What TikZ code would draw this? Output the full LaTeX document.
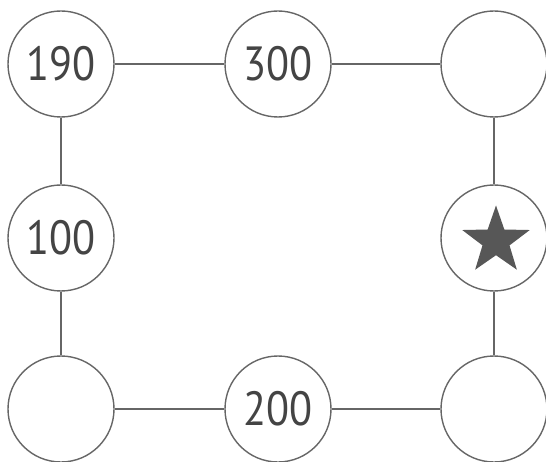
\documentclass[tikz,border=0pt]{standalone}
\usepackage{fontspec}
\setmainfont{PT Sans}
\usetikzlibrary{shapes.geometric}
\definecolor{linec}{HTML}{666666}
\definecolor{textc}{HTML}{444444}
\newcommand{\numtxt}[1]{\scalebox{0.88}[1]{#1}}
\begin{document}
\begin{tikzpicture}[x=1pt,y=-1pt,
  circ/.style={circle,draw=linec,line width=1.4pt,minimum size=106pt,inner sep=0pt,fill=white,
    font=\fontsize{48}{48}\selectfont,text=textc},
  conn/.style={draw=linec,line width=1.4pt},
  starshape/.style={star,star points=5,star point ratio=2.5,fill=textc!90!white,draw=none,minimum size=71pt,inner sep=0pt}]
\useasboundingbox[fill=white] (0,0) rectangle (546,462);
\node[circ] (a) at (61,64) {\numtxt{190}};
\node[circ] (b) at (278,64) {\numtxt{300}};
\node[circ] (c) at (494,64) {};
\node[circ] (d) at (61,238) {\numtxt{100}};
\node[circ] (e) at (494,238) {};
\node[circ] (f) at (61,409) {};
\node[circ] (g) at (278,409) {\numtxt{200}};
\node[circ] (h) at (494,409) {};
\node[starshape] (s) at (496,241) {};
\draw[conn] (a) -- (b);
\draw[conn] (b) -- (c);
\draw[conn] (a) -- (d);
\draw[conn] (d) -- (f);
\draw[conn] (f) -- (g);
\draw[conn] (g) -- (h);
\draw[conn] (c) -- (e);
\draw[conn] (e) -- (h);
\end{tikzpicture}
\end{document}
